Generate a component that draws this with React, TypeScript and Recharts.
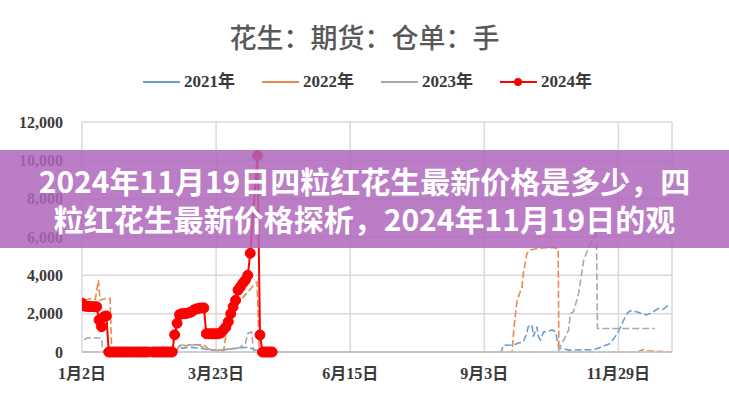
import { LineChart, Line, XAxis, YAxis, CartesianGrid } from "recharts";

// x is the trading-day index, ticks every 55 days
const dateTicks = [0, 55, 110, 165, 220];
const dateLabels = ["1月2日", "3月23日", "6月15日", "9月3日", "11月29日"];
const valueTicks = [0, 2000, 4000, 6000, 8000, 10000, 12000];

const years = ["2021年", "2022年", "2023年", "2024年"];
const colors = ["#6a9fd4", "#eb8a4c", "#a9a9a9", "#ff0000"];

// [day index, 手]
const s2021: [number, number][] = [
  [0, 0], [38, 0], [40, 180], [44, 250], [48, 200], [52, 120], [56, 60],
  [60, 150], [64, 200], [68, 250], [71, 120], [74, 0], [172, 0], [172.4, 190],
  [173, 360], [177, 350], [179, 470], [181, 520], [182.5, 990], [183, 1320],
  [184.6, 1410], [185.1, 800], [186.6, 1320], [187.2, 800], [188, 630],
  [189.4, 1060], [190.8, 1060], [192.8, 1150], [194.2, 1060], [195.6, 190],
  [200, 100], [210, 120], [216.7, 450], [218.7, 800], [220, 1060],
  [222.2, 1670], [223.5, 2000], [224.8, 2150], [227.6, 2100], [229.6, 2000],
  [231.6, 1930], [234.4, 2100], [236.4, 2280], [238.5, 2230], [240.6, 2450],
  [241.3, 2500],
];

const s2022: [number, number][] = [
  [1, 2700], [4, 2800], [5.5, 2750], [6.7, 3750], [7.4, 2700], [8.6, 2750],
  [10, 2800], [11.5, 2800], [12.2, 0], [38, 0], [40, 300], [45, 370],
  [50, 370], [52, 150], [58, 0], [60, 1700], [61, 2000], [62, 2360],
  [65, 2700], [67.6, 3060], [69.8, 3400], [71.8, 3650], [72.7, 0],
  [176.4, 0], [177, 990], [177.8, 2000], [178.5, 2700], [180.5, 3400],
  [181, 4100], [182.5, 5150], [184, 5320], [186.6, 5400], [190, 5440],
  [193.5, 5440], [195.3, 5400], [195.6, 0], [228, 0], [230, 120], [232, 60],
  [242, 0],
];

const s2023: [number, number][] = [
  [1, 630], [2, 730], [8, 730], [8.6, 0], [38, 0], [40, 350], [44, 380],
  [48, 350], [51, 150], [55, 100], [60, 150], [64, 200], [67, 400],
  [68, 970], [69.5, 1060], [70.5, 0], [195, 0], [198.3, 800], [199.6, 1150],
  [200.3, 2000], [201.6, 2100], [203.7, 3060], [205.8, 4800], [206.9, 5150],
  [209, 5800], [211, 6300], [211.4, 1230], [235, 1230],
];

// 2024, one value per trading day from index 0
const v2024: (number | null)[] = [
  2550, 2400, 2380, 2370, 2370, 2360, 2360, 1670, 1320, 1840, 1880,
  0, 0, 0, 0, 0, 0, 0, 0, 0, 0, 0, 0, 0, 0, 0, 0, 0,
  null,
  0, 0, 0, 0, 0, 0, 0, 0, 0,
  900, 1500, 1950, 2000, 2000, 2020, 2050, 2100, 2200, 2250, 2280, 2300, 2300,
  950, 950, 950, 950, 950, 950, 1000, 1150, 1300, 1580, 2000, 2360, 2700,
  3230, 3400, 3600, 3750, 4000, 5150,
  null, null,
  10250, 890, 0, 0, 0, 0, 0,
];

const rows = (pts: [number, number][]) => pts.map(([i, v]) => ({ i, v }));
const rows2024 = v2024.map((v, i) => ({ i, v }));

const serif = "'Times New Roman', 'Liberation Serif', 'DejaVu Serif', 'Noto Sans CJK SC', serif";
const cjk = "'Noto Sans CJK SC', sans-serif";

const tickStyle = { fill: "#3a3a3a", fontSize: 16, fontFamily: serif, fontWeight: 600 };

export default function App() {
  return (
    <div
      style={{
        position: "fixed",
        left: 0,
        top: 0,
        width: 729,
        height: 400,
        background: "#fff",
        overflow: "hidden",
      }}
    >
      {/* TITLE */}
      <div
        style={{
          position: "absolute",
          top: 22,
          left: 0,
          width: 729,
          textAlign: "center",
          fontFamily: cjk,
          fontSize: 27,
          lineHeight: "30px",
          fontWeight: 500,
          color: "#595959",
        }}
      >
        花生：期货：仓单：手
      </div>

      {/* LEGEND */}
      <div
        style={{
          position: "absolute",
          top: 72,
          left: 143,
          display: "flex",
          fontFamily: serif,
          fontSize: 17,
          lineHeight: "20px",
          fontWeight: 600,
          color: "#3a3a3a",
        }}
      >
        {years.map((y, k) => (
          <div key={y} style={{ width: 119, display: "flex", alignItems: "center" }}>
            <svg width={38} height={20}>
              <line x1={0} y1={10} x2={37} y2={10} stroke={colors[k]} strokeWidth={2} />
              {k === 3 && <circle cx={18} cy={10} r={4} fill={colors[k]} />}
            </svg>
            <span style={{ marginLeft: 3 }}>{y}</span>
          </div>
        ))}
      </div>

      {/* CHART */}
      <LineChart
        width={729}
        height={400}
        margin={{ top: 122, right: 57, bottom: 18, left: 22 }}
      >
        <CartesianGrid stroke="#d9d9d9" strokeWidth={1.5} />
        <XAxis
          type="number"
          dataKey="i"
          domain={[0, 242]}
          ticks={dateTicks}
          tickFormatter={(v: number) => dateLabels[dateTicks.indexOf(v)]}
          allowDataOverflow
          axisLine={{ stroke: "#c8c8c8", strokeWidth: 1.5 }}
          tickLine={false}
          tickMargin={10}
          tick={tickStyle}
          height={30}
        />
        <YAxis
          type="number"
          domain={[0, 12000]}
          ticks={valueTicks}
          tickFormatter={(v: number) => v.toLocaleString("en-US")}
          axisLine={false}
          tickLine={false}
          tickMargin={13}
          tick={tickStyle}
          width={60}
        />
        <Line
          data={rows(s2021)}
          dataKey="v"
          stroke={colors[0]}
          strokeWidth={1.6}
          strokeDasharray="7 3"
          dot={false}
          activeDot={false}
          isAnimationActive={false}
        />
        <Line
          data={rows(s2022)}
          dataKey="v"
          stroke={colors[1]}
          strokeWidth={1.6}
          strokeDasharray="7 3"
          dot={false}
          activeDot={false}
          isAnimationActive={false}
        />
        <Line
          data={rows(s2023)}
          dataKey="v"
          stroke={colors[2]}
          strokeWidth={1.6}
          strokeDasharray="7 3"
          dot={false}
          activeDot={false}
          isAnimationActive={false}
        />
        <Line
          data={rows2024}
          dataKey="v"
          stroke={colors[3]}
          strokeWidth={2}
          connectNulls
          dot={{ r: 5, fill: colors[3], stroke: colors[3], strokeWidth: 1 }}
          activeDot={false}
          isAnimationActive={false}
        />
      </LineChart>

      {/* BANNER */}
      <div
        style={{
          position: "absolute",
          top: 150,
          left: 0,
          width: 729,
          height: 98,
          background: "rgba(175, 102, 187, 0.85)",
          fontFamily: cjk,
          fontWeight: 700,
          fontSize: 30,
          lineHeight: "38px",
          color: "#fff",
          textAlign: "center",
          paddingTop: 11,
          boxSizing: "border-box",
          whiteSpace: "nowrap",
        }}
      >
        <div>2024年11月19日四粒红花生最新价格是多少，四</div>
        <div>粒红花生最新价格探析，2024年11月19日的观</div>
      </div>
    </div>
  );
}
